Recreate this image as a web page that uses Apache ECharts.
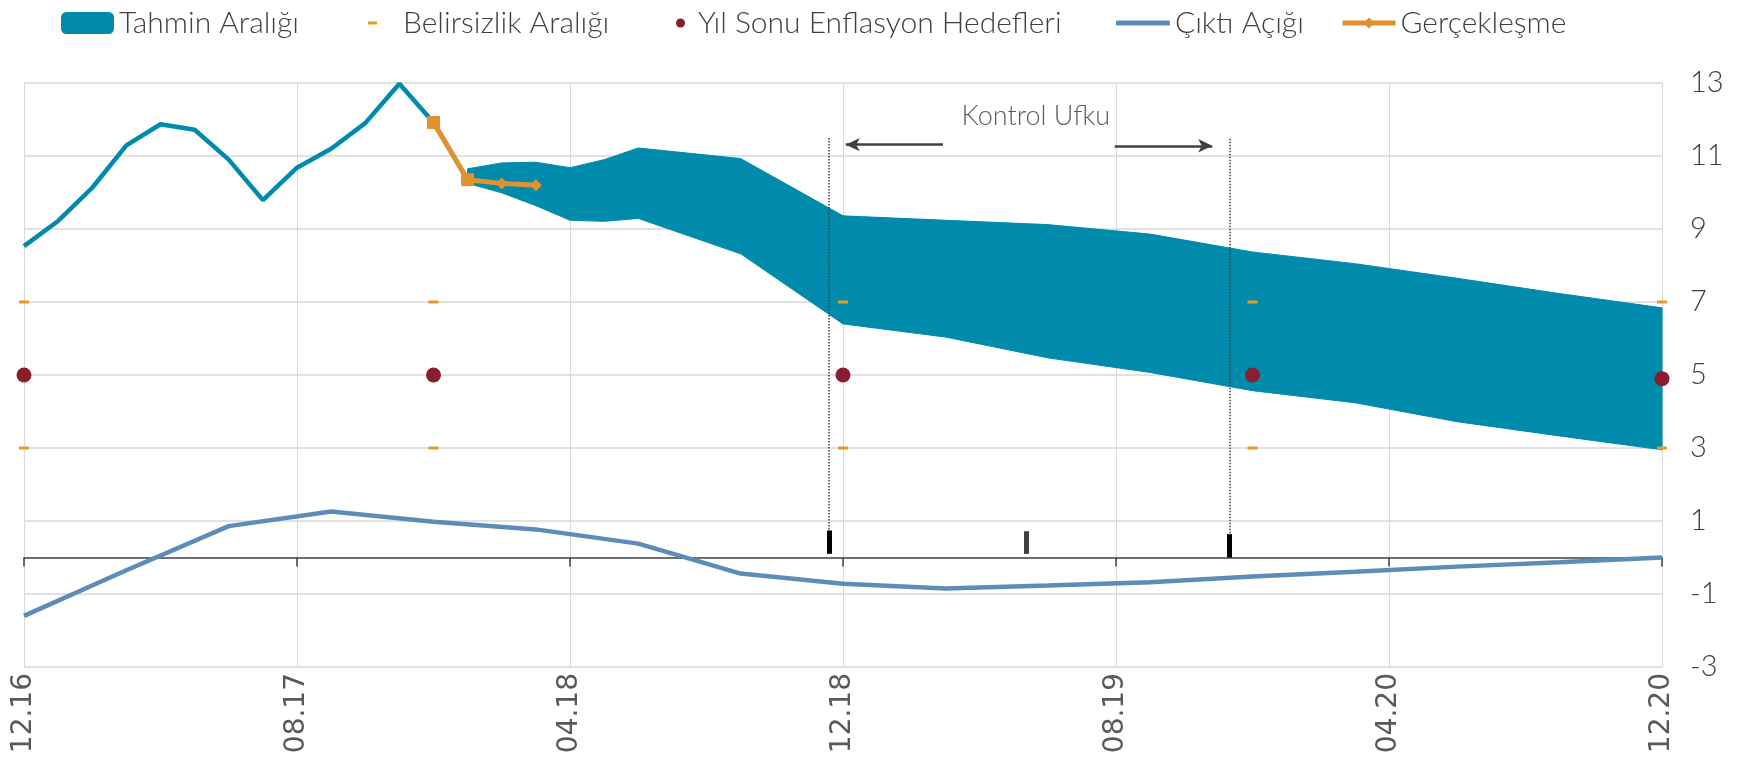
<!DOCTYPE html>
<html>
<head>
<meta charset="utf-8">
<script src="https://cdn.jsdelivr.net/npm/echarts@6/dist/echarts.min.js"></script>
<style>
html, body { margin: 0; padding: 0; background: #fff; }
#chart { width: 1741px; height: 765px; }
</style>
</head>
<body>
<div id="chart"></div>
<script>
// ay indeksi: 0 = 12.16, 48 = 12.20 (x ekseni aylık)
var tickLabels = ['12.16', '08.17', '04.18', '12.18', '08.19', '04.20', '12.20'];

// gerçekleşen enflasyon (fanın solundaki çizgi)
var inflMonths = [0, 1, 2, 3, 4, 5, 6, 7, 8, 9, 10, 11, 12, 13];
var inflValues = [8.53, 9.22, 10.13, 11.29, 11.87, 11.72, 10.90, 9.79, 10.68, 11.20, 11.90, 12.98, 11.92, 10.35];

// tahmin aralığı alt / üst sınır
var fanMonths = [13, 14, 15, 16, 17, 18, 21, 24, 27, 30, 33, 36, 39, 42, 45, 48];
var fanHigh = [10.65, 10.81, 10.83, 10.68, 10.90, 11.22, 10.93, 9.36, 9.24, 9.12, 8.86, 8.37, 8.05, 7.65, 7.23, 6.84];
var fanLow = [10.25, 9.99, 9.64, 9.24, 9.21, 9.29, 8.32, 6.40, 6.04, 5.47, 5.07, 4.57, 4.24, 3.72, 3.33, 2.95];

// çıktı açığı
var gapMonths = [0, 3, 6, 9, 12, 15, 18, 21, 24, 27, 30, 33, 36, 39, 42, 45, 48];
var gapValues = [-1.6, -0.35, 0.86, 1.26, 0.98, 0.77, 0.38, -0.44, -0.72, -0.85, -0.77, -0.68, -0.52, -0.39, -0.25, -0.13, 0.0];

// gerçekleşme
var actualMonths = [12, 13, 14, 15];
var actualValues = [11.92, 10.35, 10.25, 10.20];

// yıl sonu hedefleri ve belirsizlik aralığı
var targetMonths = [0, 12, 24, 36, 48];
var targetValues = [5, 5, 5, 5, 4.9];
var bandUpper = [7, 7, 7, 7, 7];
var bandLower = [3, 3, 3, 3, 3];

// kontrol ufku işaretleri
var horizonStart = 23.59, horizonMid = 29.38, horizonEnd = 35.33;

var TEAL = '#008bad', BLUE = '#5b8db8', ORANGE = '#e0922f', DASH = '#e69a2e', RED = '#8b1e2e';
var GRID = '#d9d9d9', TXT = '#404040';

function pairs(xs, ys) {
    var out = [];
    for (var i = 0; i < xs.length; i++) out.push([xs[i], ys[i]]);
    return out;
}

var fanData = [];
for (var i = 0; i < fanMonths.length; i++) fanData.push([fanMonths[i], fanLow[i], fanHigh[i]]);

var dashData = pairs(targetMonths, bandUpper).concat(pairs(targetMonths, bandLower));

// tüm fanı tek bir poligon olarak çiz
function renderFan(params, api) {
    if (params.dataIndex !== 0) return null;
    var pts = [];
    for (var i = 0; i < fanMonths.length; i++) pts.push(api.coord([fanMonths[i], fanHigh[i]]));
    for (var j = fanMonths.length - 1; j >= 0; j--) pts.push(api.coord([fanMonths[j], fanLow[j]]));
    return {
        type: 'polygon',
        shape: { points: pts },
        style: { fill: TEAL, stroke: TEAL, lineWidth: 1 }
    };
}

var legendText = { fontFamily: 'Lato', fontWeight: 300, fontSize: 30, color: TXT };
function leg(name, left, extra) {
    var o = {
        data: [name], left: left, top: 3, itemGap: 0, selectedMode: false,
        textStyle: Object.assign({}, legendText)
    };
    for (var k in extra) {
        if (k === 'pad') o.textStyle.padding = extra[k];
        else o[k] = extra[k];
    }
    return o;
}

var myChart = echarts.init(document.getElementById('chart'));

var option = {
    animation: false,
    backgroundColor: '#fff',
    legend: [
        leg('Tahmin Aralığı', 56, { icon: 'roundRect', itemWidth: 53, itemHeight: 22, itemStyle: { color: TEAL } }),
        leg('Belirsizlik Aralığı', 363, { icon: 'rect', itemWidth: 9, itemHeight: 3, pad: [0, 0, 0, 21] }),
        leg('Yıl Sonu Enflasyon Hedefleri', 671, { icon: 'circle', itemWidth: 9, itemHeight: 9, pad: [0, 0, 0, 8] }),
        leg('Çıktı Açığı', 1111, { icon: 'roundRect', itemWidth: 54, itemHeight: 5, itemStyle: { color: BLUE } }),
        leg('Gerçekleşme', 1335, { itemWidth: 53, itemHeight: 14, lineStyle: { width: 5 } })
    ],
    grid: { left: 24, right: 79, top: 83, bottom: 98, containLabel: false },
    xAxis: [{
        type: 'value', min: 0, max: 48, interval: 8, position: 'bottom',
        axisLine: { show: false, onZero: false },
        axisTick: { show: false },
        splitLine: { show: true, lineStyle: { color: GRID, width: 1 } },
        axisLabel: {
            rotate: 90, margin: 6, fontFamily: 'DejaVu Sans', fontSize: 28, color: '#595959',
            formatter: function (v) { return tickLabels[Math.round(v / 8)]; }
        }
    }, {
        type: 'value', min: 0, max: 48, interval: 8, position: 'bottom',
        axisLine: { show: true, onZero: true, lineStyle: { color: TXT, width: 1.5 } },
        axisTick: { show: true, length: 9, lineStyle: { color: TXT, width: 1.5 } },
        splitLine: { show: false },
        axisLabel: { show: false }
    }],
    yAxis: {
        type: 'value', min: -3, max: 13, interval: 2, position: 'right',
        axisLine: { show: false, onZero: false },
        axisTick: { show: false },
        splitLine: { lineStyle: { color: GRID, width: 1.5 } },
        axisLabel: { margin: 28, fontFamily: 'Lato', fontWeight: 300, fontSize: 29, color: TXT }
    },
    series: [
        {
            name: 'Tahmin Aralığı', type: 'custom', data: fanData,
            encode: { x: 0, y: [1, 2] },
            itemStyle: { color: TEAL },
            renderItem: renderFan, silent: true, z: 2
        },
        {
            name: 'Enflasyon', type: 'line', data: pairs(inflMonths, inflValues),
            symbol: 'none', itemStyle: { color: TEAL }, lineStyle: { color: TEAL, width: 4.5 }, z: 3
        },
        {
            name: 'Çıktı Açığı', type: 'line', data: pairs(gapMonths, gapValues),
            symbol: 'none', itemStyle: { color: BLUE }, lineStyle: { color: BLUE, width: 4.5 }, z: 3
        },
        {
            name: 'Belirsizlik Aralığı', type: 'scatter', data: dashData,
            symbol: 'rect', symbolSize: [10, 3], itemStyle: { color: DASH, opacity: 1 }, z: 6
        },
        {
            name: 'Yıl Sonu Enflasyon Hedefleri', type: 'scatter', data: pairs(targetMonths, targetValues),
            symbol: 'circle', symbolSize: 15, itemStyle: { color: RED, opacity: 1 }, z: 6
        },
        {
            name: 'Gerçekleşme', type: 'line',
            data: actualMonths.map(function (m, i) {
                return { value: [m, actualValues[i]], symbol: i < 2 ? 'rect' : 'diamond', symbolSize: i < 2 ? 13 : 12 };
            }),
            symbol: 'diamond', symbolSize: 12, showAllSymbol: true,
            itemStyle: { color: ORANGE }, lineStyle: { color: ORANGE, width: 5 }, z: 7
        },
        {
            name: 'Kontrol Ufku', type: 'scatter', z: 8, silent: true,
            data: [[29.65, 12.08]],
            symbolSize: 0, itemStyle: { color: 'rgba(0,0,0,0)' },
            label: {
                show: true, position: 'inside', formatter: 'Kontrol Ufku',
                fontFamily: 'Lato', fontWeight: 300, fontSize: 27, color: '#333'
            },
            markLine: {
                silent: true, symbol: ['none', 'none'], label: { show: false },
                data: [
                    [{ coord: [horizonStart, 11.49], lineStyle: { type: 'dotted', color: TXT, width: 1.5 } }, { coord: [horizonStart, 0.74] }],
                    [{ coord: [horizonEnd, 11.47], lineStyle: { type: 'dotted', color: TXT, width: 1.5 } }, { coord: [horizonEnd, 0.64] }],
                    [{ coord: [horizonStart, 0.74], lineStyle: { type: 'solid', color: '#000', width: 5 } }, { coord: [horizonStart, 0.10] }],
                    [{ coord: [horizonMid, 0.72], lineStyle: { type: 'solid', color: TXT, width: 5 } }, { coord: [horizonMid, 0.10] }],
                    [{ coord: [horizonEnd, 0.64], lineStyle: { type: 'solid', color: '#000', width: 5 } }, { coord: [horizonEnd, 0.0] }],
                    [{ coord: [26.93, 11.31], symbol: 'none', lineStyle: { type: 'solid', color: TXT, width: 2.5 } },
                     { coord: [24.08, 11.31], symbol: 'arrow', symbolSize: [10, 14] }],
                    [{ coord: [31.96, 11.28], symbol: 'none', lineStyle: { type: 'solid', color: TXT, width: 2.5 } },
                     { coord: [34.82, 11.28], symbol: 'arrow', symbolSize: [10, 14] }]
                ]
            }
        }
    ]
};

myChart.setOption(option);
</script>
</body>
</html>
